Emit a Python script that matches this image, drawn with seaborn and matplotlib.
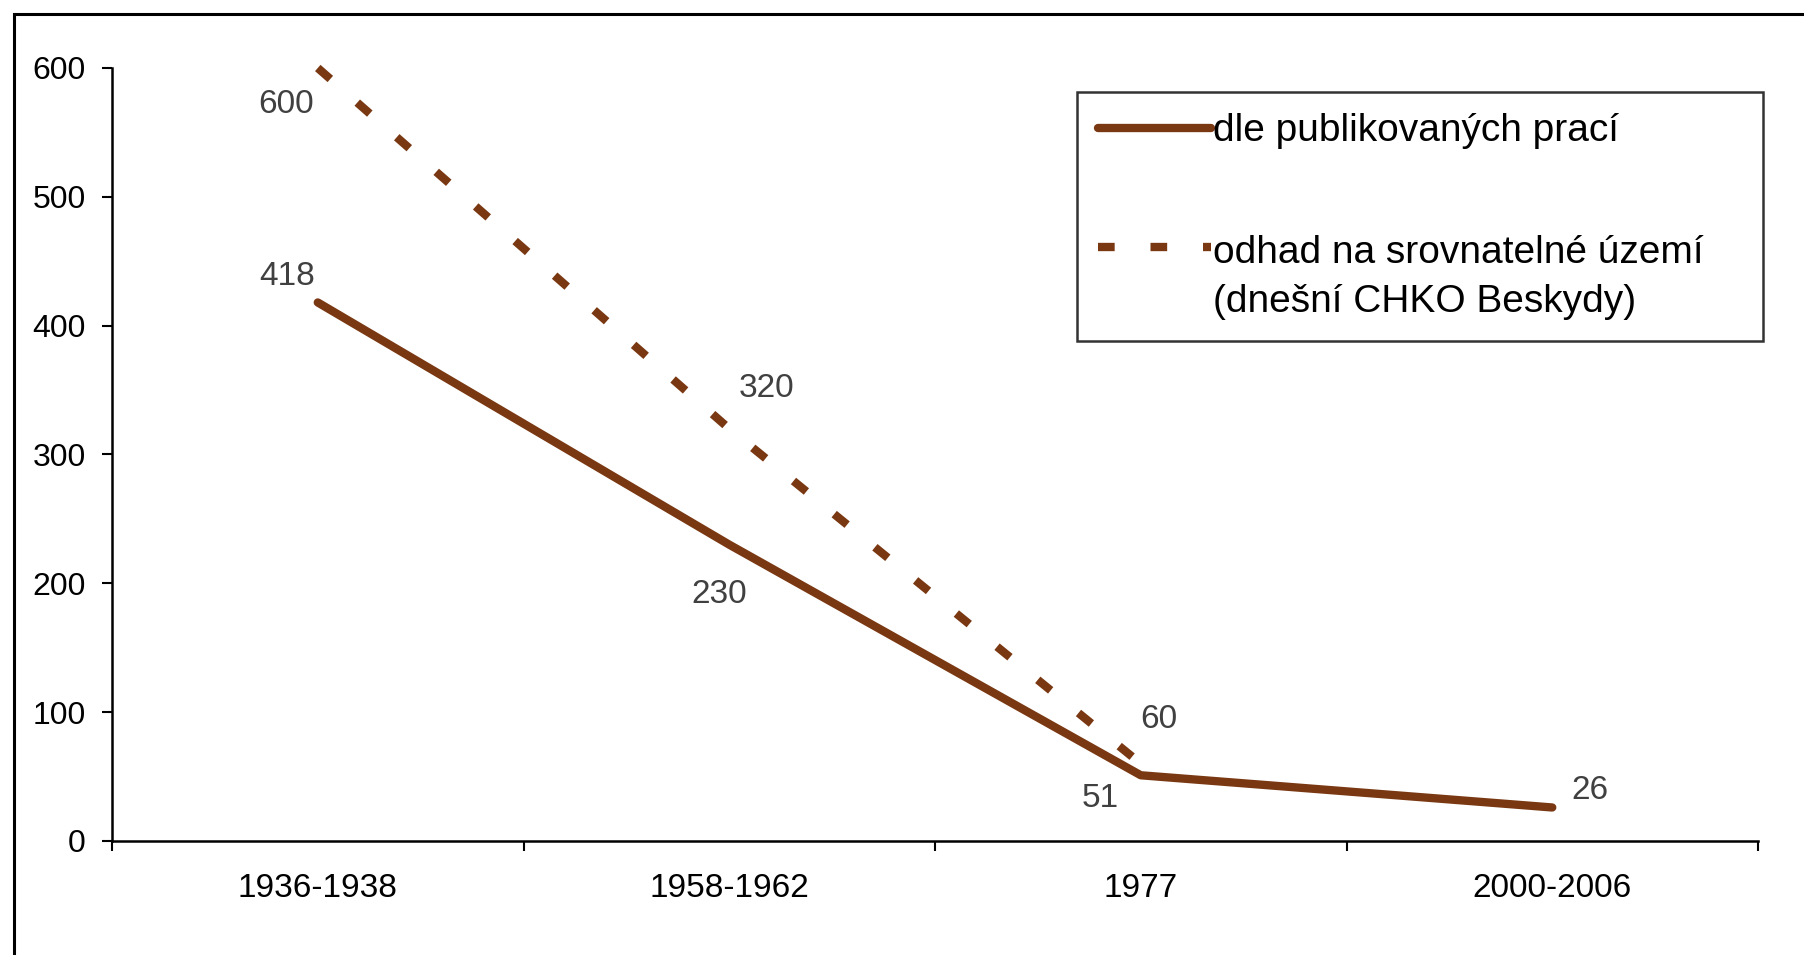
"""
Decline chart: solid line from published works, dashed line for the estimate.
"""

import numpy as np  # positions for the categories
import pandas as pd  # long table for seaborn
import matplotlib
matplotlib.use("Agg")  # no display in the sandbox
import matplotlib.pyplot as plt  # figure and axes
from matplotlib.patches import Rectangle  # outer chart frame
import seaborn as sns  # line drawing

# data
categories = ["1936-1938", "1958-1962", "1977", "2000-2006"]
published = [418, 230, 51, 26]
estimate = [600, 320, 60]
series_names = ["dle publikovaných prací",
                "odhad na srovnatelné území\n(dnešní CHKO Beskydy)"]
y_ticks = [0, 100, 200, 300, 400, 500, 600]

# label offsets (points) for every value, same order as the data
published_offsets = [(-22, 19), (-7, -36), (-29, -17), (27, 12)]
estimate_offsets = [(-23, -26), (27, 29), (13, 32)]

BROWN = "#7a3812"
LABEL_GREY = "#404040"
LW = 6.0

sns.set_theme(style="white")
plt.rcParams["font.family"] = ["Liberation Sans", "DejaVu Sans"]

# build long table for seaborn
x_pos = np.arange(len(categories))
df = pd.concat([
    pd.DataFrame({"x": x_pos, "y": published, "serie": series_names[0]}),
    pd.DataFrame({"x": x_pos[:len(estimate)], "y": estimate, "serie": series_names[1]}),
], ignore_index=True)

fig = plt.figure(figsize=(18.04, 9.55), dpi=100)
ax = fig.add_axes([0.0621, 0.1194, 0.9124, 0.8094])

sns.lineplot(data=df, x="x", y="y", hue="serie", style="serie",
             palette=[BROWN, BROWN], dashes=[(None, None), (2.0, 4.3)],
             linewidth=LW, ax=ax, legend=True, clip_on=False)

# value labels
for xi, val, off in zip(x_pos, published, published_offsets):
    ax.annotate(str(val), (xi, val), xytext=off, textcoords="offset points",
                ha="center", va="center", fontsize=24, color=LABEL_GREY)
for xi, val, off in zip(x_pos, estimate, estimate_offsets):
    ax.annotate(str(val), (xi, val), xytext=off, textcoords="offset points",
                ha="center", va="center", fontsize=24, color=LABEL_GREY)

# axes look (Excel style)
ax.set_xlim(-0.5, len(categories) - 0.5)
ax.set_ylim(0, 600)
ax.set_xticks(x_pos)
ax.set_xticklabels(categories)
ax.set_xticks(np.arange(-0.5, len(categories)), minor=True)
ax.set_yticks(y_ticks)
ax.set_xlabel("")
ax.set_ylabel("")
ax.tick_params(axis="x", which="major", length=0, pad=23, labelsize=24, colors="black")
ax.tick_params(axis="x", which="minor", length=7, width=1.5, color="black", bottom=True)
ax.tick_params(axis="y", length=7, width=1.5, pad=12, labelsize=23, colors="black", left=True)
for side in ["top", "right"]:
    ax.spines[side].set_visible(False)
for side in ["left", "bottom"]:
    ax.spines[side].set_color("black")
    ax.spines[side].set_linewidth(1.8)

# legend box, stretched to the width of the source box
leg = ax.legend(loc="upper left", bbox_to_anchor=(0.586, 0.969, 0.417, 0.0),
                mode="expand", fontsize=28,
                frameon=True, fancybox=False, handlelength=2.9, handletextpad=0.05,
                labelspacing=2.2, borderpad=0.55, borderaxespad=0)
leg.get_frame().set_edgecolor("black")
leg.get_frame().set_linewidth(1.8)
for txt in leg.get_texts():
    txt.set_linespacing(1.47)
    txt.set_color("black")
handles = leg.get_lines()
for line in handles:
    line.set_linewidth(LW)
# dashed handle sits at the first text line, as in the source chart
handles[1].set_ydata(np.asarray(handles[1].get_ydata()) + 22)

# outer frame of the chart area (cut by the right and bottom edge)
fig.add_artist(Rectangle((0.0078, -0.1), 2, 1.0853, transform=fig.transFigure,
                         fill=False, edgecolor="black", linewidth=2.2))

fig.savefig("out.png", dpi=100)
plt.close(fig)
